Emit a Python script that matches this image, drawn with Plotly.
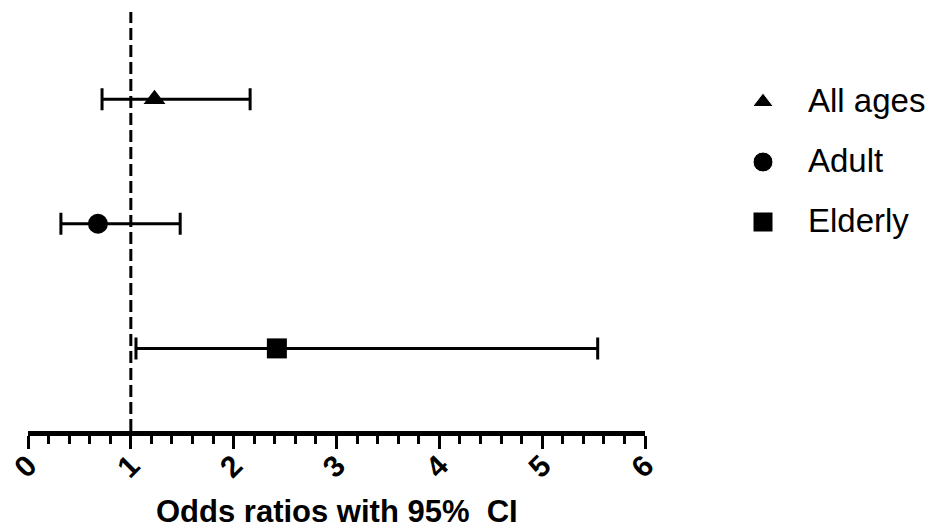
import plotly.graph_objects as go

# Odds ratios with 95% confidence intervals by age group
groups = ["All ages", "Adult", "Elderly"]
odds_ratio = [1.23, 0.68, 2.42]
ci_lower = [0.72, 0.32, 1.05]
ci_upper = [2.16, 1.48, 5.54]
symbols = ["triangle-up", "circle", "square"]
marker_sizes = [19, 20, 20]

tick_values = [0, 1, 2, 3, 4, 5, 6]
reference_or = 1
axis_title = "<b>Odds ratios with 95%\u00a0 CI</b>"

FONT = "Liberation Sans, Arial, Helvetica, sans-serif"
W, H = 927, 529
L, R, T, B = 28, 20, 12, 98
plot_w = W - L - R
plot_h = H - T - B
x_axis_end = 645  # pixel where the value 6 sits


def paper_y(px):
    """Convert a pixel row of the page into paper coordinates."""
    return (H - B - px) / plot_h


fig = go.Figure()

for g, orv, lo, hi, sym, ms in zip(groups, odds_ratio, ci_lower, ci_upper, symbols, marker_sizes):
    fig.add_trace(go.Scatter(
        x=[orv], y=[g], mode="markers", name=g, showlegend=False,
        marker=dict(symbol=sym, size=ms, color="black", opacity=1,
                    line=dict(width=0)),
        error_x=dict(type="data", symmetric=False,
                     array=[hi - orv], arrayminus=[orv - lo],
                     color="black", thickness=3, width=11),
        cliponaxis=False,
    ))

# key on the right-hand side, drawn on a pixel-scaled overlay
key_x = 763
key_y = [102, 162, 222]
fig.add_trace(go.Scatter(
    x=[key_x] * len(groups), y=key_y, mode="markers", showlegend=False,
    marker=dict(symbol=symbols, size=[18, 20, 20], color="black", opacity=1),
    xaxis="x2", yaxis="y2", hoverinfo="skip", cliponaxis=False,
))
for g, ky in zip(groups, key_y):
    fig.add_annotation(x=806, y=ky - 2, xref="x2", yref="y2", text=g,
                       showarrow=False, xanchor="left", yanchor="middle",
                       font=dict(family=FONT, size=33, color="black"))

# x-axis title, centred under the axis
fig.add_annotation(x=3, xref="x", y=paper_y(511), yref="paper",
                   text=axis_title, showarrow=False,
                   xanchor="center", yanchor="middle",
                   font=dict(family=FONT, size=31, color="black"))

# vertical reference line at OR = 1
fig.add_shape(type="line", x0=reference_or, x1=reference_or, xref="x",
              y0=0, y1=1, yref="y domain",
              line=dict(color="black", width=3, dash="12px,5px"))

fig.update_layout(
    width=W, height=H, autosize=False,
    margin=dict(l=L, r=R, t=T, b=B, pad=0, autoexpand=False),
    paper_bgcolor="white", plot_bgcolor="rgba(0,0,0,0)",
    font=dict(family=FONT, color="black"),
    xaxis=dict(
        domain=[0, (x_axis_end - L) / plot_w],
        range=[0, 6], tickvals=tick_values,
        ticktext=[f"<b>{v}</b>" for v in tick_values],
        showgrid=False, zeroline=False,
        showline=True, linecolor="black", linewidth=5,
        ticks="outside", ticklen=13, tickwidth=3, tickcolor="black",
        tickangle=-45, automargin=False, ticklabelstandoff=-13,
        tickfont=dict(family=FONT, size=30, color="black"),
        minor=dict(dtick=0.2, ticks="outside", ticklen=8, tickwidth=3,
                   tickcolor="black", showgrid=False),
        anchor="y",
    ),
    yaxis=dict(
        type="category", categoryorder="array",
        categoryarray=list(reversed(groups)),
        range=[-0.663, 2.70], automargin=False,
        showgrid=False, zeroline=False, showline=False,
        showticklabels=False, ticks="",
    ),
    xaxis2=dict(domain=[0, 1], range=[L, W - R], visible=False, anchor="y2"),
    yaxis2=dict(domain=[0, 1], range=[H - B, T], visible=False, anchor="x2"),
    showlegend=False,
)

fig.write_html("out.html")
